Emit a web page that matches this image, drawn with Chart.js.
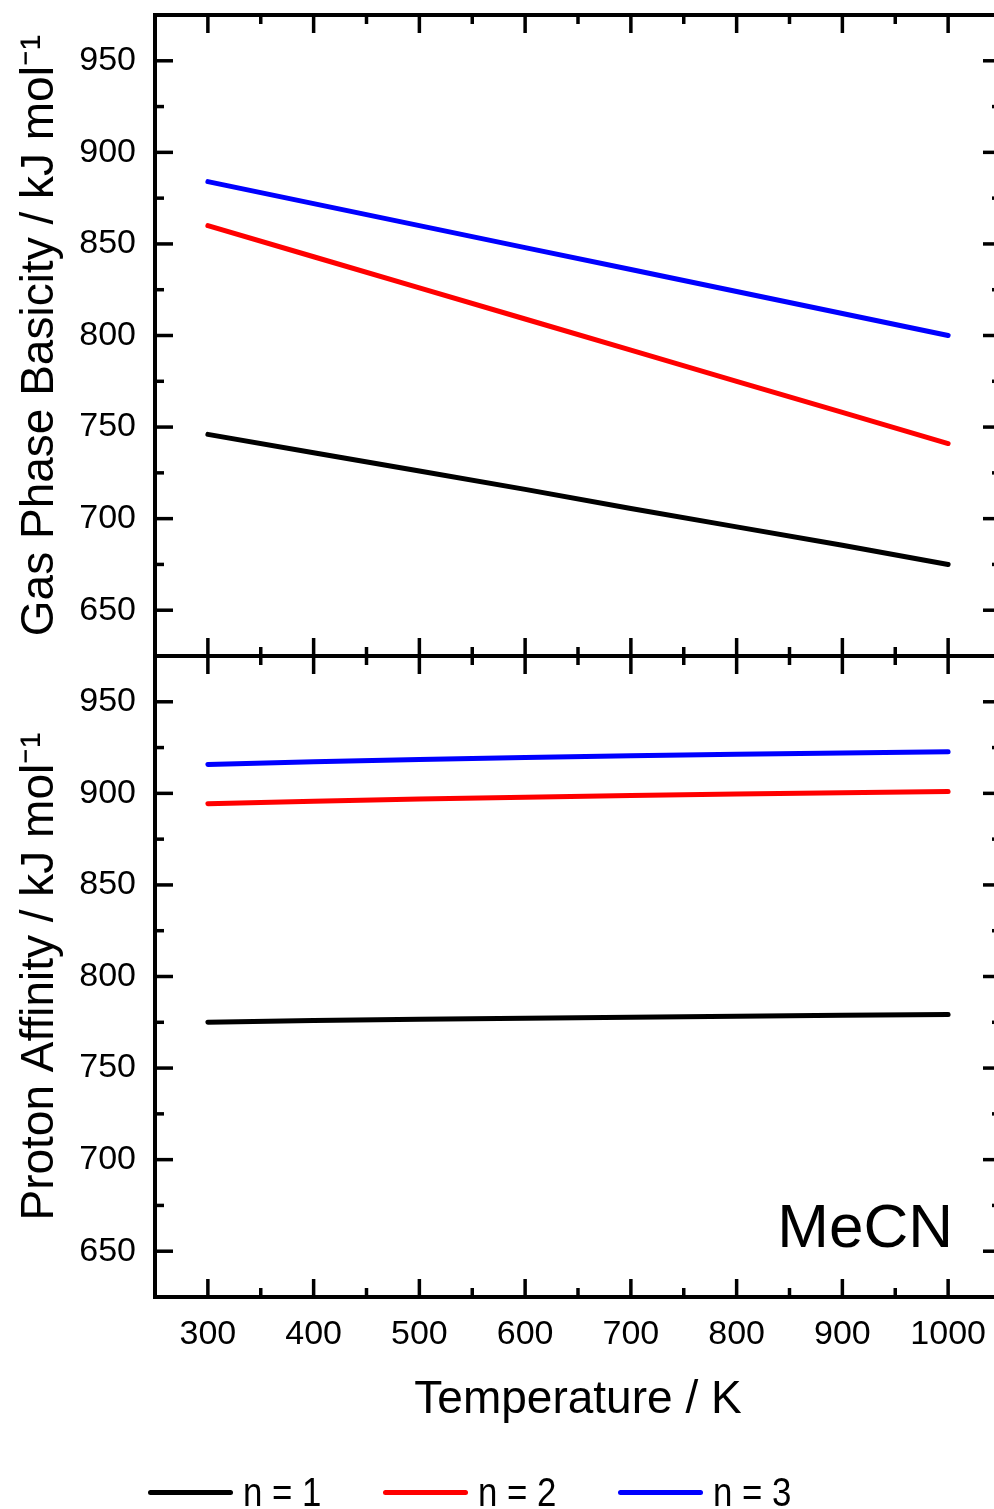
<!DOCTYPE html>
<html>
<head>
<meta charset="utf-8">
<title>MeCN gas phase basicity and proton affinity</title>
<script src="https://cdn.jsdelivr.net/npm/chart.js@4.4.1/dist/chart.umd.min.js"></script>
<style>
  html, body { margin: 0; padding: 0; background: #fff; overflow: hidden; width: 994px; height: 1509px; }
  #wrap { position: relative; width: 1010px; height: 1509px; }
  #legend { position: absolute; left: 148px; top: 1470px; display: flex; font-family: 'Liberation Sans Narrow', 'Liberation Sans', Arial, sans-serif; font-size: 41px; color: #000; }
  .item { width: 235px; display: flex; align-items: center; height: 44px; }
  .swatch { width: 85px; height: 5px; border-radius: 3px; margin-right: 10px; flex: none; }
  .label { display: inline-block; transform: scaleX(0.85); transform-origin: left center; white-space: nowrap; }
</style>
</head>
<body>
<div id="wrap">
  <canvas id="chart" width="1010" height="1509"></canvas>
  <div id="legend"></div>
</div>
<script>
// temperatures in K
const temps = [300, 400, 500, 600, 700, 800, 900, 1000]

// gas phase basicity, kJ/mol (top panel)
const gbN1 = [746, 736, 726, 716, 705.5, 695.5, 685.5, 675]
const gbN2 = [860, 843, 826, 809, 792, 775, 758, 741]
const gbN3 = [884, 872, 860, 848, 836, 824, 812, 800]

// proton affinity, kJ/mol (bottom panel)
const paN1 = [775, 776, 776.6, 777.2, 777.8, 778.3, 778.8, 779.2]
const paN2 = [894.3, 895.7, 896.9, 897.9, 898.8, 899.6, 900.3, 901]
const paN3 = [915.8, 917.3, 918.5, 919.6, 920.5, 921.3, 922, 922.7]

const seriesNames = ['n = 1', 'n = 2', 'n = 3']
const seriesColors = ['#000000', '#ff0000', '#0000ff']

const xTicks = [300, 400, 500, 600, 700, 800, 900, 1000]
const yTicks = [650, 700, 750, 800, 850, 900, 950]

const FONT = "'Liberation Sans', Arial, sans-serif"
Chart.defaults.font.family = FONT
Chart.defaults.color = '#000'

function pts(values) {
  return temps.map((t, i) => ({ x: t, y: values[i] }))
}

function makeSet(label, values, color, axis) {
  return {
    label: label,
    data: pts(values),
    borderColor: color,
    backgroundColor: color,
    borderWidth: 5,
    borderCapStyle: 'round',
    pointRadius: 0,
    yAxisID: axis
  }
}

// frame, inward ticks on all sides and the MeCN label
const frameTicks = {
  id: 'frameTicks',
  afterDraw(chart) {
    const { ctx, chartArea: a, scales } = chart
    const mid = scales.yTop.bottom
    const line = (x1, y1, x2, y2) => {
      ctx.beginPath()
      ctx.moveTo(x1, y1)
      ctx.lineTo(x2, y2)
      ctx.stroke()
    }
    ctx.save()
    ctx.strokeStyle = '#000'
    ctx.lineWidth = 3.5

    for (let v = xTicks[0]; v <= xTicks[xTicks.length - 1]; v += 50) {
      const px = scales.x.getPixelForValue(v)
      const len = v % 100 === 0 ? 18 : 9
      line(px, a.top, px, a.top + len)
      line(px, mid - len, px, mid + len)
      line(px, a.bottom - len, px, a.bottom)
    }

    for (const s of [scales.yTop, scales.yBot]) {
      for (let v = yTicks[0]; v <= yTicks[yTicks.length - 1]; v += 25) {
        const py = s.getPixelForValue(v)
        const len = v % 50 === 0 ? 18 : 9
        line(a.left, py, a.left + len, py)
        line(a.right - len, py, a.right, py)
      }
    }

    ctx.lineWidth = 4
    ctx.strokeRect(a.left, a.top, a.right - a.left, a.bottom - a.top)
    line(a.left, mid, a.right, mid)

    ctx.fillStyle = '#000'
    ctx.font = '62px ' + FONT
    ctx.textAlign = 'right'
    ctx.textBaseline = 'alphabetic'
    ctx.fillText('MeCN', a.right - 48, a.bottom - 50)
    ctx.restore()
  }
}

function yAxis(title, weight) {
  return {
    type: 'linear',
    position: 'left',
    stack: 'panels',
    stackWeight: 1,
    weight: weight,
    min: 625,
    max: 975,
    afterBuildTicks: s => { s.ticks = yTicks.map(v => ({ value: v })) },
    afterFit: s => {
      s.width = 155
      s.paddingTop = 0
      s.paddingBottom = 0
    },
    ticks: { font: { size: 34 }, color: '#000', padding: 19, callback: v => String(v) },
    grid: { display: false, drawTicks: false },
    border: { display: false },
    title: {
      display: true,
      text: title,
      font: { size: 46 },
      color: '#000',
      padding: { top: 13, bottom: 0 }
    }
  }
}

function createChart() {
  const ctx = document.getElementById('chart')

  const datasets = [
    makeSet(seriesNames[0], gbN1, seriesColors[0], 'yTop'),
    makeSet(seriesNames[1], gbN2, seriesColors[1], 'yTop'),
    makeSet(seriesNames[2], gbN3, seriesColors[2], 'yTop'),
    makeSet(seriesNames[0], paN1, seriesColors[0], 'yBot'),
    makeSet(seriesNames[1], paN2, seriesColors[1], 'yBot'),
    makeSet(seriesNames[2], paN3, seriesColors[2], 'yBot')
  ]

  const chart = new Chart(ctx, {
    type: 'line',
    data: { datasets: datasets },
    plugins: [frameTicks],
    options: {
      responsive: false,
      animation: false,
      layout: { padding: { top: 15, right: 9, left: 0, bottom: 0 } },
      plugins: { legend: { display: false }, tooltip: { enabled: false } },
      scales: {
        x: {
          type: 'linear',
          position: 'bottom',
          min: 250,
          max: 1050,
          afterBuildTicks: s => { s.ticks = xTicks.map(v => ({ value: v })) },
          afterFit: s => {
            s.height = 212
            s.paddingLeft = 0
            s.paddingRight = 0
          },
          ticks: { font: { size: 34 }, color: '#000', padding: 17, maxRotation: 0, callback: v => String(v) },
          grid: { display: false, drawTicks: false },
          border: { display: false },
          title: {
            display: true,
            text: 'Temperature / K',
            font: { size: 46 },
            color: '#000',
            padding: { top: 0, bottom: 81 }
          }
        },
        yTop: yAxis('Gas Phase Basicity / kJ mol\u207B\u00B9', 2),
        yBot: yAxis('Proton Affinity / kJ mol\u207B\u00B9', 1)
      }
    }
  })

  // legend built from the top panel datasets
  const legend = document.getElementById('legend')
  chart.data.datasets.slice(0, 3).forEach(ds => {
    const item = document.createElement('div')
    item.className = 'item'
    const sw = document.createElement('span')
    sw.className = 'swatch'
    sw.style.background = ds.borderColor
    const txt = document.createElement('span')
    txt.className = 'label'
    txt.textContent = ds.label
    item.appendChild(sw)
    item.appendChild(txt)
    legend.appendChild(item)
  })
}

createChart()
</script>
</body>
</html>
